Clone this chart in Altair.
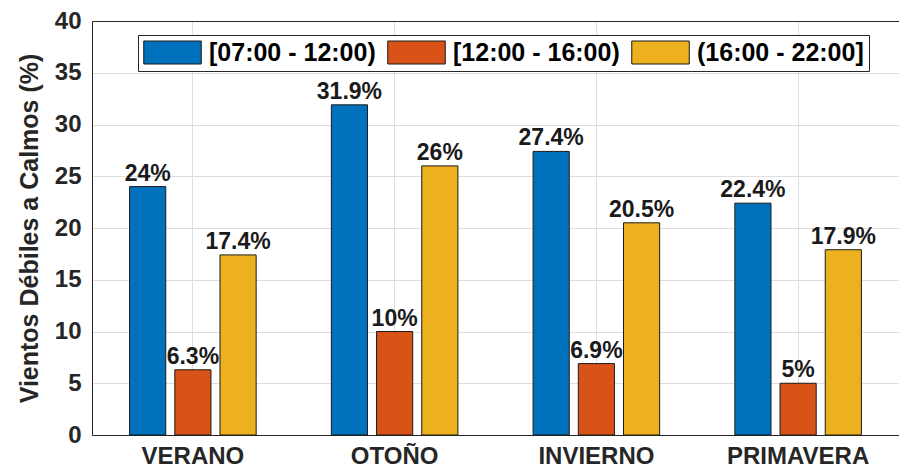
import altair as alt
import pandas as pd

seasons = ["VERANO", "OTOÑO", "INVIERNO", "PRIMAVERA"]
periods = ["[07:00 - 12:00)", "[12:00 - 16:00)", "(16:00 - 22:00]"]
morning = [24, 31.9, 27.4, 22.4]
midday = [6.3, 10, 6.9, 5]
evening = [17.4, 26, 20.5, 17.9]
colors = ["#0072BD", "#D95319", "#EDB120"]

rows = []
for series, name in zip([morning, midday, evening], periods):
    for s, v in zip(seasons, series):
        rows.append({"season": s, "period": name, "value": v, "label": f"{v:g}%"})
df = pd.DataFrame(rows)

FONT = "Liberation Sans"
TXT = "#262626"

xscale = alt.Scale(domain=seasons, paddingInner=0.328, paddingOuter=0.164)
xoff = alt.XOffset("period:N", sort=periods,
                   scale=alt.Scale(domain=periods, paddingInner=0.2, paddingOuter=0.1))
yenc = alt.Y("value:Q", scale=alt.Scale(domain=[0, 40], nice=False),
             axis=alt.Axis(title="Vientos Débiles a Calmos (%)", values=list(range(0, 41, 5)),
                           labelFont=FONT, labelFontSize=24, labelFontWeight="bold",
                           labelColor=TXT, labelPadding=11, ticks=False,
                           titleFont=FONT, titleFontSize=25, titleFontWeight="bold",
                           titleColor=TXT, titlePadding=12,
                           grid=True, gridColor="#dedede", domainColor=TXT))

bars = alt.Chart(df).mark_bar(stroke="#1a1a1a", strokeWidth=1).encode(
    x=alt.X("season:N", sort=seasons, scale=xscale,
            axis=alt.Axis(title=None, labelAngle=0, labelFont=FONT, labelFontSize=24,
                          labelFontWeight="bold", labelColor=TXT, labelPadding=9,
                          ticks=False, grid=True, gridColor="#dedede", bandPosition=0.5,
                          domainColor=TXT)),
    xOffset=xoff,
    y=yenc,
    color=alt.Color("period:N", sort=periods,
                    scale=alt.Scale(domain=periods, range=colors),
                    legend=alt.Legend(title=None, orient="none", legendX=46, legendY=14,
                                      direction="horizontal",
                                      symbolType="M-2.5,-1H2.5V1H-2.5Z", symbolSize=529,
                                      symbolOffset=17,
                                      symbolStrokeColor="#1a1a1a", symbolStrokeWidth=1,
                                      symbolOpacity=1,
                                      labelFont=FONT, labelFontSize=25, labelFontWeight="bold",
                                      labelColor="#000000", labelOffset=24, labelLimit=400,
                                      columnPadding=9, padding=5,
                                      strokeColor="#262626", fillColor="white")),
)

text = alt.Chart(df).mark_text(baseline="bottom", dy=-1, font=FONT, fontSize=23,
                               fontWeight="bold", color="#1a1a1a").encode(
    x=alt.X("season:N", sort=seasons, scale=xscale,
            axis=alt.Axis(orient="top", title=None, labels=False, ticks=False,
                          grid=False, domainColor=TXT, minExtent=0, maxExtent=0)),
    xOffset=xoff,
    y=yenc,
    text="label:N",
)

chart = alt.layer(bars, text).resolve_axis(x="independent").properties(
    width=807, height=414,
    padding={"left": 9, "top": 1, "right": 0, "bottom": 0},
).configure_view(stroke=None).configure(background="white")

chart.save("out.html", embed_options={"renderer": "svg", "actions": False})
